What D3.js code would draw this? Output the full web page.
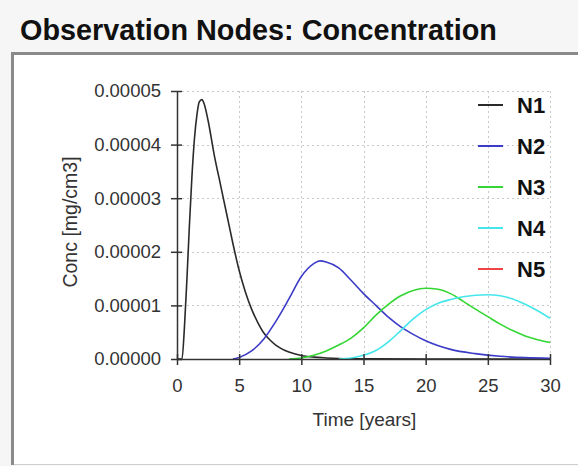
<!DOCTYPE html>
<html>
<head>
<meta charset="utf-8">
<script src="https://cdn.jsdelivr.net/npm/d3@7"></script>
<style>
  html, body { margin: 0; padding: 0; background: #f6f6f6; }
  svg { display: block; font-family: "Liberation Sans", Arial, sans-serif; }
</style>
</head>
<body>
<div id="chart"></div>
<script>
// concentrations, in units of 1e-6 mg/cm3
const n1Time = [0, 0.4, 0.6, 0.8, 1.0, 1.2, 1.4, 1.6, 1.8, 2.0, 2.2, 2.5, 3, 3.5, 4, 4.5, 5, 5.5, 6, 6.5, 7, 7.5, 8, 9, 10, 11, 12, 13, 15, 20, 25, 30];
const n1Conc = [0, 0, 6, 15, 25, 34, 41, 45.5, 48, 48.4, 47.5, 44.5, 38, 32.5, 27, 21.5, 16.5, 12.5, 9.3, 6.8, 4.8, 3.5, 2.5, 1.3, 0.65, 0.35, 0.2, 0.1, 0.03, 0, 0, 0];

const n2Time = [4.5, 5, 6, 7, 8, 9, 10, 11, 11.5, 12, 13, 14, 15, 16, 17, 18, 19, 20, 22, 24, 26, 28, 30];
const n2Conc = [0, 0.3, 1.5, 3.8, 7.2, 11.2, 15.4, 17.8, 18.3, 18.1, 17, 14.7, 12.2, 10, 7.8, 6, 4.6, 3.4, 1.8, 1, 0.5, 0.25, 0.15];

const n3Time = [9, 10, 11, 12, 13, 14, 15, 16, 17, 18, 19, 20, 21, 22, 23, 24, 25, 26, 27, 28, 29, 30];
const n3Conc = [0, 0.2, 0.7, 1.5, 2.6, 3.9, 5.8, 8.2, 10.2, 11.8, 12.8, 13.2, 13, 12.2, 10.8, 9.3, 7.9, 6.5, 5.3, 4.3, 3.6, 3.1];

const n4Time = [13, 14, 15, 16, 17, 18, 19, 20, 21, 22, 23, 24, 25, 26, 27, 28, 29, 30];
const n4Conc = [0, 0.2, 0.7, 1.6, 3.2, 5.3, 7.5, 9.2, 10.4, 11.1, 11.6, 11.9, 12, 11.8, 11.2, 10.2, 9, 7.6];

// N5 has no visible curve in the chart
const n5Time = [];
const n5Conc = [];

const seriesNames = ['N1', 'N2', 'N3', 'N4', 'N5'];
const seriesColors = ['#2a2a2a', '#3b3bc8', '#33d633', '#44e6ec', '#ee4444'];
const xTicks = [0, 5, 10, 15, 20, 25, 30];
const yTicks = [0, 0.00001, 0.00002, 0.00003, 0.00004, 0.00005];

const width = 578, height = 466;
const plot = { left: 177, right: 550, top: 91, bottom: 359 };

const svg = d3.select('#chart').append('svg')
  .attr('width', width)
  .attr('height', height);

// header + panel
svg.append('rect').attr('x', 0).attr('y', 0).attr('width', width).attr('height', height).attr('fill', '#f6f6f6');
svg.append('rect').attr('x', 12).attr('y', 53).attr('width', width - 12).attr('height', 411).attr('fill', '#ffffff');
svg.append('line').attr('x1', 12.5).attr('x2', 12.5).attr('y1', 52).attr('y2', 465)
  .attr('stroke', '#8a8a8a').attr('stroke-width', 3);
svg.append('line').attr('x1', 11).attr('x2', width).attr('y1', 53.5).attr('y2', 53.5)
  .attr('stroke', '#8a8a8a').attr('stroke-width', 3);
svg.append('line').attr('x1', 14).attr('x2', width).attr('y1', 464.5).attr('y2', 464.5)
  .attr('stroke', '#cfcfcf').attr('stroke-width', 1);

svg.append('text')
  .attr('x', 20).attr('y', 40)
  .attr('font-size', 28.8).attr('font-weight', 'bold').attr('fill', '#111')
  .text('Observation Nodes: Concentration');

const x = d3.scaleLinear().domain([0, 30]).range([plot.left, plot.right]);
const y = d3.scaleLinear().domain([0, 0.00005]).range([plot.bottom, plot.top]);

// dotted grid
const grid = svg.append('g').attr('stroke', '#c8c8c8').attr('stroke-width', 1).attr('stroke-dasharray', '2,3');
grid.selectAll('.gy').data(yTicks.slice(1)).enter().append('line')
  .attr('x1', plot.left).attr('x2', plot.right)
  .attr('y1', d => Math.round(y(d)) + 0.5).attr('y2', d => Math.round(y(d)) + 0.5);
grid.selectAll('.gx').data(xTicks.slice(1)).enter().append('line')
  .attr('x1', d => Math.round(x(d)) + 0.5).attr('x2', d => Math.round(x(d)) + 0.5)
  .attr('y1', plot.top).attr('y2', plot.bottom);

// curves
const allSeries = [
  { name: 'N5', time: n5Time, conc: n5Conc, color: seriesColors[4] },
  { name: 'N1', time: n1Time, conc: n1Conc, color: seriesColors[0] },
  { name: 'N2', time: n2Time, conc: n2Conc, color: seriesColors[1] },
  { name: 'N3', time: n3Time, conc: n3Conc, color: seriesColors[2] },
  { name: 'N4', time: n4Time, conc: n4Conc, color: seriesColors[3] }
];

const line = d3.line()
  .x(d => x(d[0]))
  .y(d => y(d[1] * 1e-6))
  .curve(d3.curveMonotoneX);

svg.append('g').selectAll('path').data(allSeries.filter(s => s.time.length)).enter().append('path')
  .attr('d', s => line(s.time.map((t, i) => [t, s.conc[i]])))
  .attr('fill', 'none')
  .attr('stroke', s => s.color)
  .attr('stroke-width', 1.6);

// axes
const xAxis = svg.append('g')
  .attr('transform', `translate(0, ${plot.bottom})`)
  .call(d3.axisBottom(x).tickValues(xTicks).tickSizeInner(6).tickSizeOuter(0).tickPadding(14));
const yAxis = svg.append('g')
  .attr('transform', `translate(${plot.left}, 0)`)
  .call(d3.axisLeft(y).tickValues(yTicks).tickFormat(d3.format('.5f')).tickSizeInner(6).tickSizeOuter(0).tickPadding(10));

[xAxis, yAxis].forEach(a => {
  a.select('.domain').attr('stroke', '#333').attr('stroke-width', 1.5);
  a.selectAll('.tick line').attr('stroke', '#333').attr('stroke-width', 1.5);
  a.selectAll('.tick text').attr('font-size', 18.5).attr('fill', '#333').attr('font-family', '"Liberation Sans", Arial, sans-serif');
});
// ticks cross the axis line
xAxis.selectAll('.tick line').attr('y1', -5).attr('y2', 6);
yAxis.selectAll('.tick line').attr('x1', 5).attr('x2', -6);

svg.append('text')
  .attr('x', (plot.left + plot.right) / 2 + 1).attr('y', 426)
  .attr('text-anchor', 'middle').attr('font-size', 19).attr('fill', '#333')
  .text('Time [years]');

svg.append('text')
  .attr('transform', `translate(77, ${(plot.top + plot.bottom) / 2 - 3}) rotate(-90)`)
  .attr('text-anchor', 'middle').attr('font-size', 19.5).attr('fill', '#333')
  .text('Conc [mg/cm3]');

// legend
const legend = svg.append('g');
seriesNames.forEach((name, i) => {
  const ly = 105 + i * 41;
  legend.append('line')
    .attr('x1', 478).attr('x2', 503).attr('y1', ly).attr('y2', ly)
    .attr('stroke', seriesColors[i]).attr('stroke-width', 2);
  legend.append('text')
    .attr('x', 517).attr('y', ly).attr('dy', '0.36em')
    .attr('font-size', 22).attr('font-weight', 'bold').attr('fill', '#111')
    .text(name);
});
</script>
</body>
</html>
